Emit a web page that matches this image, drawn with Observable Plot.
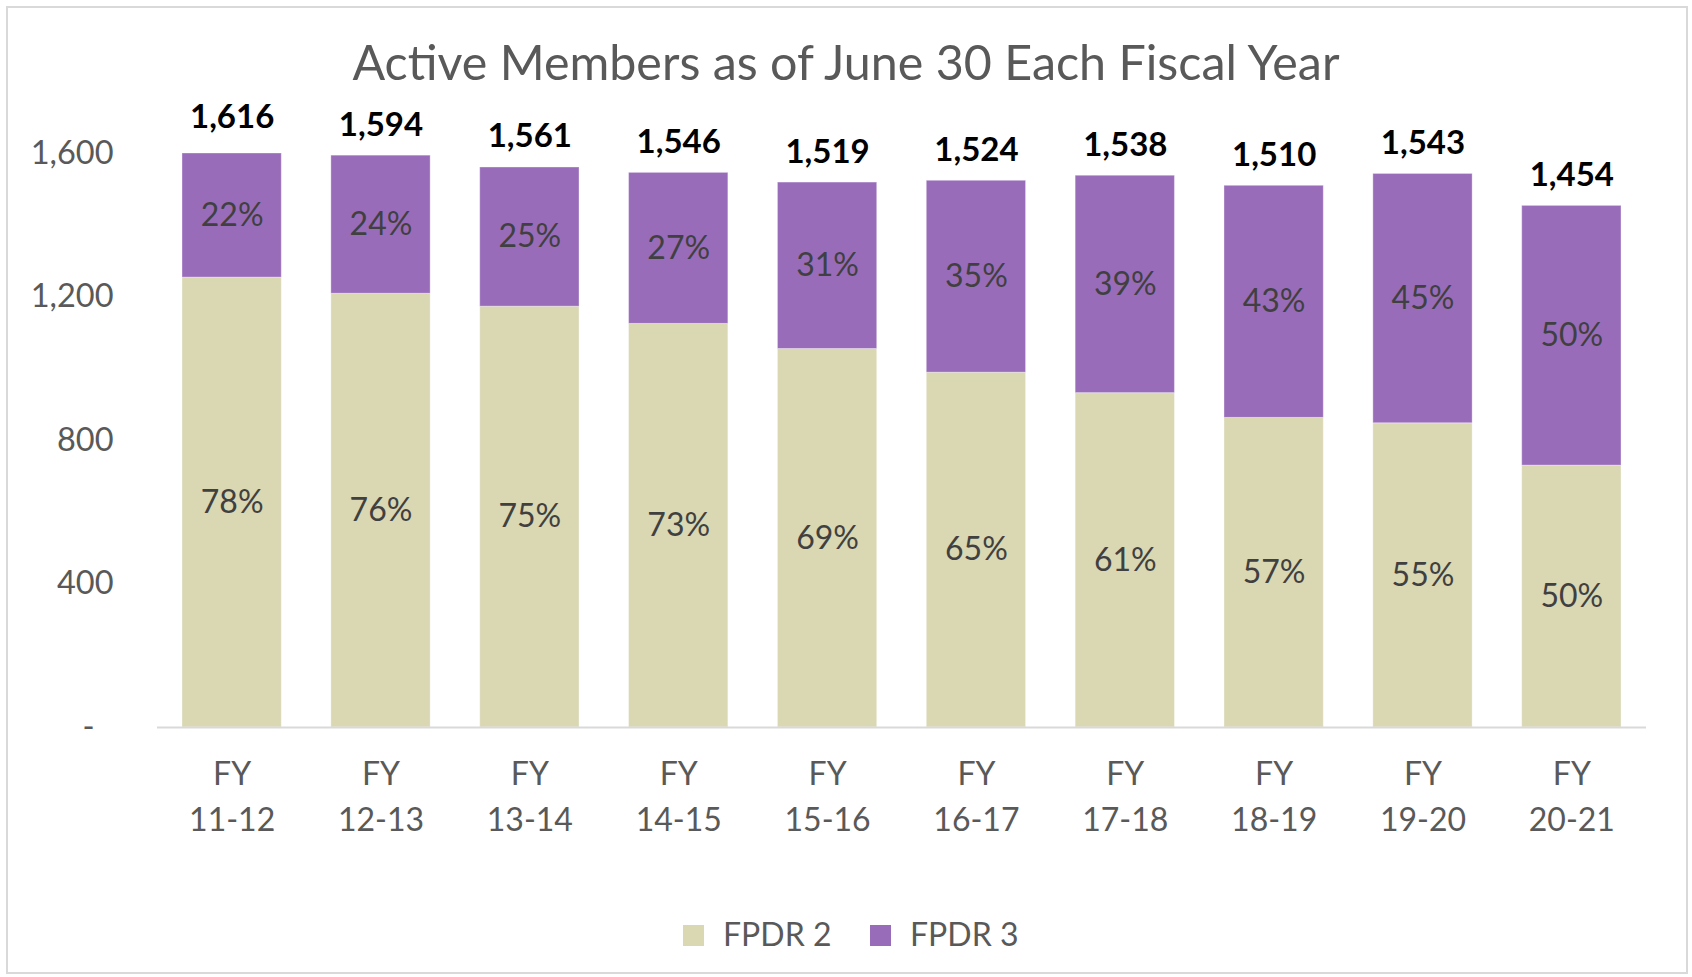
<!DOCTYPE html>
<html><head><meta charset="utf-8">
<script src="https://cdn.jsdelivr.net/npm/d3@7"></script>
<script src="https://cdn.jsdelivr.net/npm/@observablehq/plot@0.6"></script>
<style>
body{margin:0;background:#fff;font-family:Lato,"Open Sans",sans-serif;}
#wrap{position:relative;width:1692px;height:977px;overflow:hidden;background:#fff;}
#chart{position:absolute;left:0;top:0;}
#frame{position:absolute;left:6px;top:6px;width:1682px;height:968px;border:2px solid #d9d9d9;box-sizing:border-box;pointer-events:none;}
#title{position:absolute;left:0;width:1692px;top:37px;text-align:center;color:#595959;font-size:48.4px;line-height:1;white-space:nowrap;}
.sw{position:absolute;width:21px;height:21px;top:925px;}
.lt{position:absolute;top:918px;font-size:32px;line-height:1;color:#595959;white-space:nowrap;}
</style></head>
<body>
<div id="wrap">
  <div id="chart"></div>
  <div id="title"></div>
  <div id="legend"></div>
  <div id="frame"></div>
</div>
<script>
const titleText = "Active Members as of June 30 Each Fiscal Year";
const years = ["11-12","12-13","13-14","14-15","15-16","16-17","17-18","18-19","19-20","20-21"];
const seriesNames = ["FPDR 2","FPDR 3"];
const seriesColors = ["#dad7b3","#996cba"];
const fpdr2 = [1254,1209,1173,1125,1055,989,932,863,848,730];
const fpdr3 = [346,385,388,421,464,535,606,647,695,724];
const totals = [1616,1594,1561,1546,1519,1524,1538,1510,1543,1454];
const pct2 = [78,76,75,73,69,65,61,57,55,50];
const pct3 = [22,24,25,27,31,35,39,43,45,50];
const yTicks = [0,400,800,1200,1600];

const rows = [];
years.forEach((y,i)=>{
  rows.push({year:y, series:seriesNames[0], value:fpdr2[i], pct:pct2[i]});
  rows.push({year:y, series:seriesNames[1], value:fpdr3[i], pct:pct3[i]});
});
const totalRows = years.map((y,i)=>({year:y, total:totals[i]}));
const fmt = d3.format(",");

const plot = Plot.plot({
  width:1692, height:860,
  marginTop:153, marginBottom:133, marginLeft:157, marginRight:46,
  style:{background:"transparent", fontFamily:"Lato, 'Open Sans', sans-serif"},
  x:{domain:years, paddingInner:0.333, paddingOuter:0.168, round:false, axis:null},
  y:{domain:[0,1600], axis:null},
  color:{domain:seriesNames, range:seriesColors},
  marks:[
    Plot.barY(rows, {x:"year", y:"value", fill:"series", stroke:"#ffffff", strokeOpacity:0.35, strokeWidth:1}),
    Plot.ruleY([0], {stroke:"#d9d9d9", strokeWidth:2}),
    Plot.text(rows, Plot.stackY({x:"year", y:"value", text:d=>d.pct+"%", fill:"#404040", fontSize:32})),
    Plot.text(totalRows, {x:"year", y:"total", text:d=>fmt(d.total), fill:"#000", fontSize:33, fontWeight:"bold", lineAnchor:"bottom", dy:-20}),
    Plot.axisY({ticks:yTicks, tickFormat:d=> d===0 ? "-\u2007" : fmt(d), tickSize:0, tickPadding:44, fontSize:32.5, fill:"#595959", label:null}),
    Plot.axisX({tickFormat:d=>"FY\n"+d, tickSize:0, tickPadding:25, fontSize:32, lineHeight:1.44, fill:"#595959", label:null})
  ]
});
document.getElementById("chart").appendChild(plot);
document.getElementById("title").textContent = titleText;

const legend = document.getElementById("legend");
const swX = [683, 870];
const txX = [723, 910];
seriesNames.forEach((n,i)=>{
  const s = document.createElement("div");
  s.className="sw"; s.style.left=swX[i]+"px"; s.style.background=seriesColors[i];
  legend.appendChild(s);
  const t = document.createElement("div");
  t.className="lt"; t.style.left=txX[i]+"px"; t.textContent=n;
  legend.appendChild(t);
});
</script>
</body></html>
